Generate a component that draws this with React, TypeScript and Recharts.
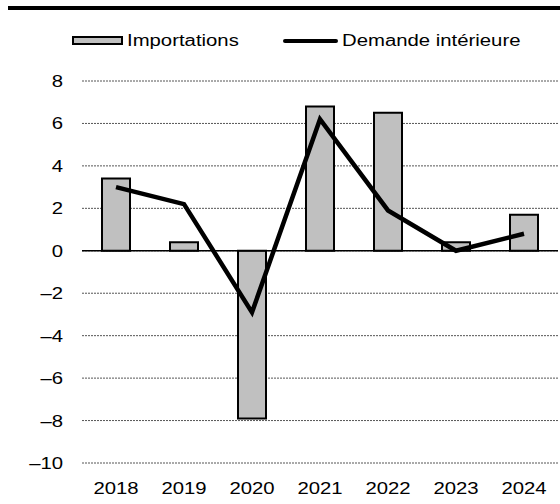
import React from 'react';
import { ComposedChart, Bar, Line, XAxis, YAxis, CartesianGrid, ReferenceLine } from 'recharts';

const years = ['2018', '2019', '2020', '2021', '2022', '2023', '2024'];
const importations = [3.4, 0.4, -7.9, 6.8, 6.5, 0.4, 1.7];
const demandeInterieure = [3.0, 2.2, -2.9, 6.2, 1.9, 0.0, 0.8];
const yTicks = [-10, -8, -6, -4, -2, 0, 2, 4, 6, 8];

const FONT = '"Liberation Sans", Arial, sans-serif';
const STRETCH = 1.27;

const data = years.map((year, i) => ({
  year,
  Importations: importations[i],
  'Demande intérieure': demandeInterieure[i],
}));

// labels in the source image are horizontally stretched
const fmt = (v: number) => (v < 0 ? '\u2013' + Math.abs(v) : String(v));

const YTick = (props: any) => {
  const { x, y, payload } = props;
  return (
    <g transform={`translate(${x - 11},${y}) scale(${STRETCH},1)`}>
      <text x={0} y={0} dy={6} textAnchor="end" fontSize={16} fontFamily={FONT} fill="#000">
        {fmt(payload.value)}
      </text>
    </g>
  );
};

const XTick = (props: any) => {
  const { x, payload } = props;
  return (
    <g transform={`translate(${x},488) scale(${STRETCH},1)`}>
      <text x={0} y={0} dy={6} textAnchor="middle" fontSize={16} fontFamily={FONT} fill="#000">
        {payload.value}
      </text>
    </g>
  );
};

const labelStyle: React.CSSProperties = {
  position: 'absolute',
  top: 32,
  fontSize: 16,
  fontFamily: FONT,
  lineHeight: '18px',
  transform: `scaleX(${STRETCH})`,
  transformOrigin: 'left center',
  whiteSpace: 'nowrap',
  color: '#000',
};

const ChartLegend = () => (
  <div style={{ position: 'absolute', left: 0, top: 0, width: 560, height: 60 }}>
    <div style={{ position: 'absolute', left: 72, top: 36, width: 47, height: 5, background: '#c0c0c0', border: '2px solid #000' }} />
    <span style={{ ...labelStyle, left: 127 }}>Importations</span>
    <div style={{ position: 'absolute', left: 283, top: 39, width: 55, height: 4, background: '#000', borderRadius: 2 }} />
    <span style={{ ...labelStyle, left: 342 }}>Demande intérieure</span>
  </div>
);

export default function App() {
  return (
    <div style={{ position: 'absolute', left: 0, top: 0, width: 560, height: 504, background: '#fff' }}>
      <div style={{ position: 'absolute', left: 8, top: 6, width: 552, height: 4, background: '#000' }} />
      <ComposedChart
        width={560}
        height={504}
        data={data}
        margin={{ top: 81, right: 2, left: 0, bottom: 0 }}
      >
        <CartesianGrid vertical={false} stroke="#555" strokeDasharray="2 1" strokeWidth={1} />
        <XAxis
          dataKey="year"
          axisLine={false}
          tickLine={false}
          height={41}
          tick={<XTick />}
          interval={0}
        />
        <YAxis
          domain={[-10, 8]}
          ticks={yTicks}
          axisLine={false}
          tickLine={false}
          width={82}
          tick={<YTick />}
          interval={0}
        />
        <ReferenceLine y={0} stroke="#000" strokeWidth={1.5} />
        <Bar
          dataKey="Importations"
          fill="#c0c0c0"
          stroke="#000"
          strokeWidth={2}
          barSize={28}
          isAnimationActive={false}
        />
        <Line
          dataKey="Demande intérieure"
          type="linear"
          stroke="#000"
          strokeWidth={4.5}
          dot={false}
          isAnimationActive={false}
        />
      </ComposedChart>
      <ChartLegend />
    </div>
  );
}
